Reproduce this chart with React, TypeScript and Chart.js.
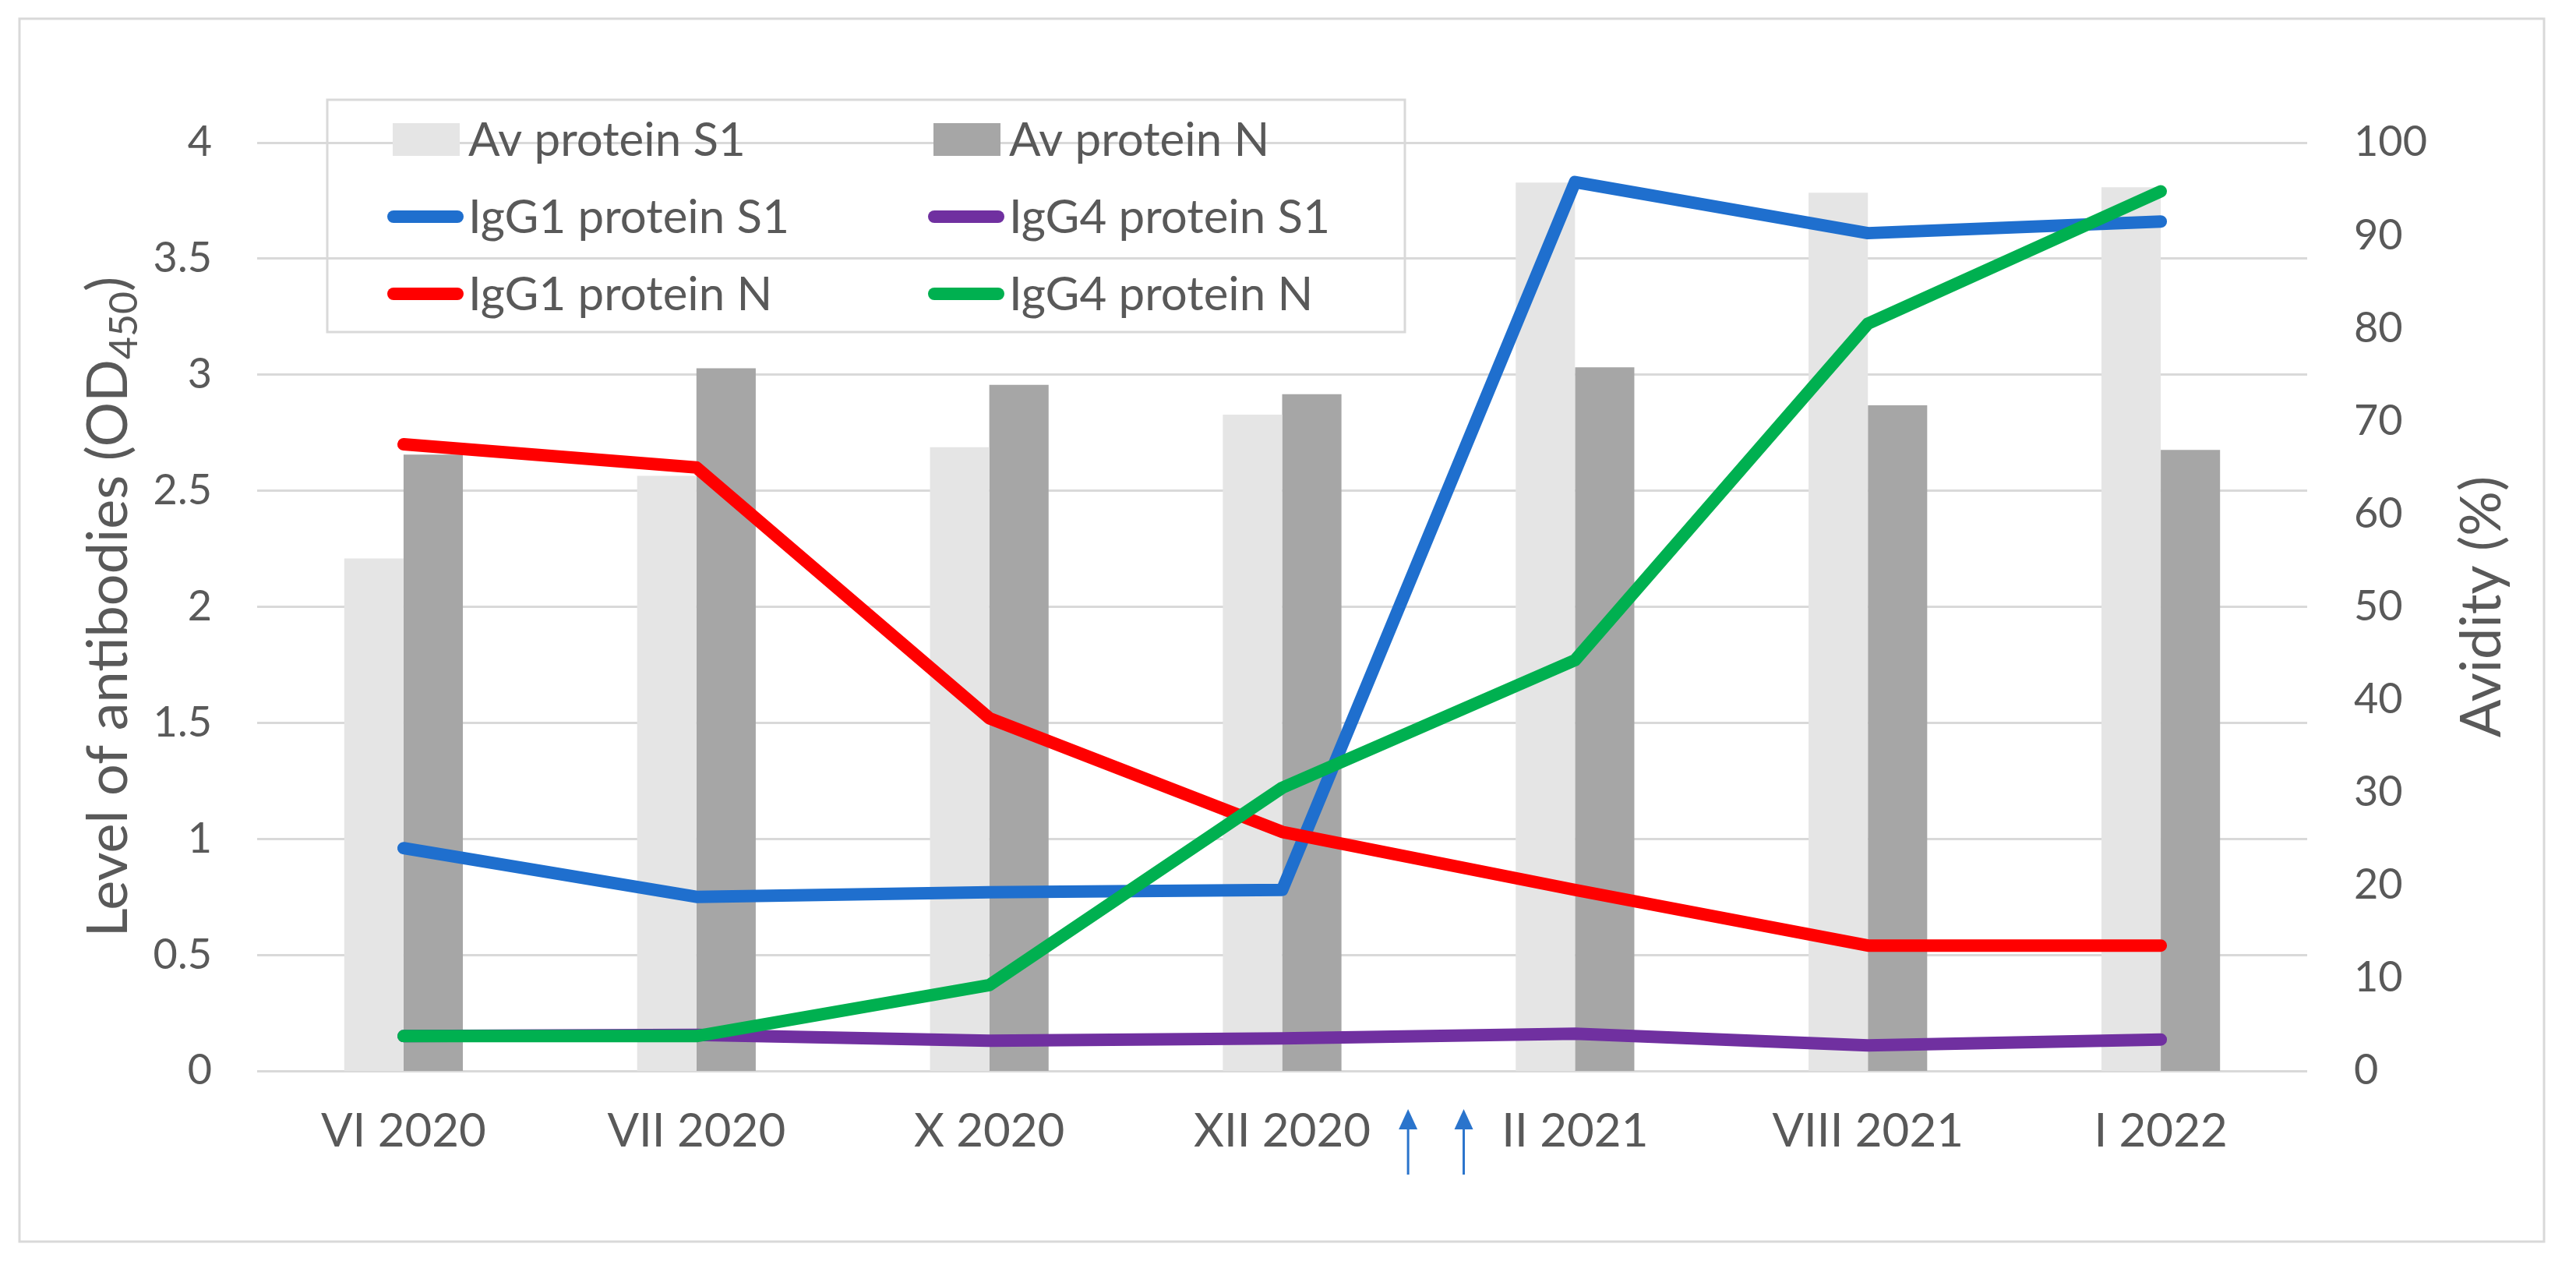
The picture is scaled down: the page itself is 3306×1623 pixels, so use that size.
import React, { useEffect, useRef } from 'react';
import { Chart, registerables } from 'chart.js';

Chart.register(...registerables);

// ---------- data ----------
const categories = ['VI 2020', 'VII 2020', 'X 2020', 'XII 2020', 'II 2021', 'VIII 2021', 'I 2022'];
const avProteinS1 = [55.2, 64.1, 67.2, 70.7, 95.7, 94.6, 95.2];
const avProteinN = [66.4, 75.7, 73.9, 72.9, 75.8, 71.7, 66.9];
const igg1ProteinS1 = [0.96, 0.75, 0.77, 0.78, 3.83, 3.61, 3.66];
const igg4ProteinS1 = [0.15, 0.155, 0.13, 0.14, 0.16, 0.11, 0.135];
const igg1ProteinN = [2.7, 2.6, 1.52, 1.03, 0.78, 0.54, 0.54];
const igg4ProteinN = [0.15, 0.15, 0.37, 1.22, 1.77, 3.22, 3.79];
const seriesNames = ['Av protein S1', 'Av protein N', 'IgG1 protein S1', 'IgG4 protein S1', 'IgG1 protein N', 'IgG4 protein N'];
// vaccination arrows, in category-index units
const arrowPositions = [3.43, 3.62];

// ---------- style ----------
const W = 3306;
const H = 1623;
const FONT = 'Lato, "Open Sans", "DejaVu Sans", sans-serif';
const TEXT = '#595959';
const GRID = '#D9D9D9';
const C_LIGHT = '#E5E5E5';
const C_DARK = '#A6A6A6';
const C_BLUE = '#1F6FCE';
const C_PURPLE = '#7030A0';
const C_RED = '#FF0000';
const C_GREEN = '#00B050';
const C_ARROW = '#2A74CC';
const LINE_W = 16;

const fmt = (v: any) => `${+Number(v).toFixed(2)}`;

export default function App() {
  const ref = useRef<HTMLCanvasElement>(null);

  useEffect(() => {
    document.body.style.margin = '0';
    document.body.style.overflow = 'hidden';
    const canvas = ref.current!;

    const decor = {
      id: 'decor',
      beforeDraw(chart: any) {
        const ctx = chart.ctx;
        ctx.save();
        ctx.fillStyle = '#FFFFFF';
        ctx.fillRect(0, 0, W, H);
        ctx.strokeStyle = GRID;
        ctx.lineWidth = 3;
        ctx.strokeRect(25, 24, 3240, 1569);
        ctx.restore();
      },
      afterDraw(chart: any) {
        const ctx = chart.ctx;
        const xs = chart.scales.x;
        const area = chart.chartArea;
        ctx.save();

        // legend box
        ctx.strokeStyle = GRID;
        ctx.lineWidth = 3;
        ctx.strokeRect(420, 128, 1383, 298);
        const colX = [497, 1191];
        const rowY = [179, 278, 377];
        const swatch = [
          { kind: 'bar', color: C_LIGHT },
          { kind: 'bar', color: C_DARK },
          { kind: 'line', color: C_BLUE },
          { kind: 'line', color: C_PURPLE },
          { kind: 'line', color: C_RED },
          { kind: 'line', color: C_GREEN },
        ];
        ctx.font = `60px ${FONT}`;
        ctx.textBaseline = 'alphabetic';
        ctx.textAlign = 'left';
        seriesNames.forEach((name, i) => {
          const cx = colX[i % 2];
          const cy = rowY[Math.floor(i / 2)];
          const s = swatch[i];
          if (s.kind === 'bar') {
            ctx.fillStyle = s.color;
            ctx.fillRect(cx + 7, cy - 21, 86, 42);
          } else {
            ctx.strokeStyle = s.color;
            ctx.lineWidth = 16;
            ctx.lineCap = 'round';
            ctx.beginPath();
            ctx.moveTo(cx + 8, cy);
            ctx.lineTo(cx + 90, cy);
            ctx.stroke();
          }
          ctx.fillStyle = TEXT;
          ctx.fillText(name, cx + 104, cy + 21);
        });

        // left axis title with subscript
        ctx.fillStyle = TEXT;
        ctx.save();
        ctx.translate(163, (area.top + area.bottom) / 2);
        ctx.rotate(-Math.PI / 2);
        const mainFont = `72px ${FONT}`;
        const subFont = `50px ${FONT}`;
        const p1 = 'Level of antibodies (OD';
        const p2 = '450';
        const p3 = ')';
        ctx.font = mainFont;
        const w1 = ctx.measureText(p1).width;
        const w3 = ctx.measureText(p3).width;
        ctx.font = subFont;
        const w2 = ctx.measureText(p2).width;
        let sx = -(w1 + w2 + w3) / 2;
        ctx.textAlign = 'left';
        ctx.font = mainFont;
        ctx.fillText(p1, sx, 0);
        sx += w1;
        ctx.font = subFont;
        ctx.fillText(p2, sx, 13);
        sx += w2;
        ctx.font = mainFont;
        ctx.fillText(p3, sx, 0);
        ctx.restore();

        // right axis title
        ctx.save();
        ctx.translate(3209, (area.top + area.bottom) / 2);
        ctx.rotate(-Math.PI / 2);
        ctx.font = `72px ${FONT}`;
        ctx.textAlign = 'center';
        ctx.fillStyle = TEXT;
        ctx.fillText('Avidity (%)', 0, 0);
        ctx.restore();

        // vaccination arrows
        const p0 = xs.getPixelForValue(0);
        const step = xs.getPixelForValue(1) - p0;
        ctx.strokeStyle = C_ARROW;
        ctx.fillStyle = C_ARROW;
        ctx.lineWidth = 3;
        ctx.lineCap = 'butt';
        arrowPositions.forEach((pos) => {
          const x = p0 + pos * step;
          const b = area.bottom;
          ctx.beginPath();
          ctx.moveTo(x, b + 70);
          ctx.lineTo(x, b + 133);
          ctx.stroke();
          ctx.beginPath();
          ctx.moveTo(x, b + 49);
          ctx.lineTo(x - 12, b + 75);
          ctx.lineTo(x + 12, b + 75);
          ctx.closePath();
          ctx.fill();
        });

        ctx.restore();
      },
    };

    const lineDs = (label: string, data: number[], color: string, order: number) => ({
      type: 'line' as const,
      label,
      data,
      yAxisID: 'y',
      borderColor: color,
      backgroundColor: color,
      borderWidth: LINE_W,
      borderCapStyle: 'round' as const,
      borderJoinStyle: 'round' as const,
      pointRadius: 0,
      pointHoverRadius: 0,
      tension: 0,
      fill: false,
      order,
    });

    const chart = new Chart(canvas, {
      type: 'bar',
      data: {
        labels: categories,
        datasets: [
          {
            type: 'bar',
            label: seriesNames[0],
            data: avProteinS1,
            yAxisID: 'y1',
            backgroundColor: C_LIGHT,
            borderWidth: 0,
            barPercentage: 1,
            categoryPercentage: 0.405,
            order: 10,
          },
          {
            type: 'bar',
            label: seriesNames[1],
            data: avProteinN,
            yAxisID: 'y1',
            backgroundColor: C_DARK,
            borderWidth: 0,
            barPercentage: 1,
            categoryPercentage: 0.405,
            order: 10,
          },
          lineDs(seriesNames[2], igg1ProteinS1, C_BLUE, 4),
          lineDs(seriesNames[3], igg4ProteinS1, C_PURPLE, 3),
          lineDs(seriesNames[4], igg1ProteinN, C_RED, 2),
          lineDs(seriesNames[5], igg4ProteinN, C_GREEN, 1),
        ] as any,
      },
      options: {
        responsive: false,
        animation: false,
        devicePixelRatio: 1,
        layout: { padding: { top: 183, left: 0, right: 0, bottom: 0 } },
        plugins: {
          legend: { display: false },
          tooltip: { enabled: false },
          title: { display: false },
        },
        scales: {
          x: {
            grid: { display: false },
            border: { display: false },
            ticks: {
              color: TEXT,
              font: { family: FONT, size: 60 },
              padding: 34,
              maxRotation: 0,
              autoSkip: false,
            },
            afterFit: (s: any) => {
              s.height = 249;
            },
          },
          y: {
            position: 'left',
            min: 0,
            max: 4,
            grid: { color: GRID, lineWidth: 3, drawTicks: false },
            border: { display: false },
            ticks: {
              stepSize: 0.5,
              color: TEXT,
              font: { family: FONT, size: 54 },
              padding: 58,
              callback: fmt,
            },
            afterFit: (s: any) => {
              s.width = 330;
            },
          },
          y1: {
            position: 'right',
            min: 0,
            max: 100,
            grid: { display: false, drawTicks: false },
            border: { display: false },
            ticks: {
              stepSize: 10,
              color: TEXT,
              font: { family: FONT, size: 54 },
              padding: 60,
              callback: fmt,
            },
            afterFit: (s: any) => {
              s.width = 345;
            },
          },
        },
      } as any,
      plugins: [decor],
    });

    return () => chart.destroy();
  }, []);

  return <canvas ref={ref} width={W} height={H} style={{ display: 'block', width: W, height: H }} />;
}
